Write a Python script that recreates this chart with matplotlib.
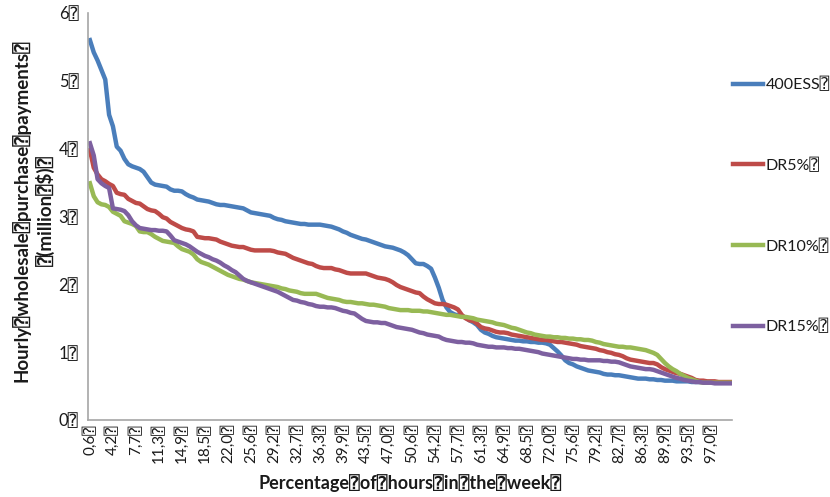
import matplotlib
matplotlib.use("Agg")
import matplotlib.pyplot as plt
import numpy as np

B = "\u2370"  # missing-glyph box as shown in the original

series_names = ["400ESS" + B, "DR5%" + B, "DR10%" + B, "DR15%" + B]
colors = ["#4A7EBB", "#BE4B48", "#98B954", "#7D60A0"]

ess400 = [5.60, 5.42, 5.30, 5.16, 5.02, 4.50, 4.33, 4.03, 3.97, 3.85,
          3.77, 3.74, 3.72, 3.70, 3.66, 3.58, 3.50, 3.47, 3.46, 3.45,
          3.44, 3.40, 3.38, 3.38, 3.37, 3.33, 3.30, 3.28, 3.25, 3.24,
          3.23, 3.22, 3.20, 3.18, 3.17, 3.17, 3.16, 3.15, 3.14, 3.13,
          3.12, 3.09, 3.06, 3.05, 3.04, 3.03, 3.02, 3.01, 2.98, 2.96,
          2.95, 2.93, 2.92, 2.91, 2.90, 2.89, 2.89, 2.88, 2.88, 2.88,
          2.88, 2.87, 2.86, 2.85, 2.83, 2.81, 2.78, 2.76, 2.73, 2.71,
          2.69, 2.67, 2.66, 2.64, 2.62, 2.60, 2.58, 2.56, 2.55, 2.54,
          2.52, 2.50, 2.47, 2.43, 2.37, 2.31, 2.30, 2.30, 2.27, 2.23,
          2.10, 1.95, 1.77, 1.66, 1.59, 1.56, 1.54, 1.53, 1.51, 1.47,
          1.44, 1.40, 1.33, 1.29, 1.27, 1.24, 1.22, 1.21, 1.20, 1.19,
          1.18, 1.17, 1.17, 1.16, 1.16, 1.15, 1.15, 1.14, 1.14, 1.13,
          1.11, 1.06, 1.01, 0.95, 0.88, 0.84, 0.82, 0.79, 0.77, 0.75,
          0.73, 0.72, 0.71, 0.70, 0.68, 0.67, 0.67, 0.66, 0.66, 0.65,
          0.64, 0.63, 0.62, 0.61, 0.61, 0.61, 0.60, 0.60, 0.59, 0.59,
          0.58, 0.58, 0.58, 0.57, 0.57, 0.57, 0.57, 0.56, 0.56, 0.56,
          0.56, 0.56, 0.55, 0.55, 0.55, 0.55, 0.55, 0.55]

dr5 = [3.98, 3.72, 3.62, 3.55, 3.52, 3.48, 3.45, 3.35, 3.33, 3.32,
       3.26, 3.23, 3.20, 3.19, 3.15, 3.11, 3.09, 3.08, 3.04, 2.99,
       2.97, 2.92, 2.89, 2.86, 2.83, 2.81, 2.80, 2.78, 2.70, 2.69,
       2.68, 2.68, 2.67, 2.66, 2.63, 2.61, 2.59, 2.57, 2.56, 2.55,
       2.55, 2.53, 2.51, 2.50, 2.50, 2.50, 2.50, 2.50, 2.49, 2.47,
       2.46, 2.45, 2.42, 2.39, 2.37, 2.35, 2.33, 2.31, 2.30, 2.27,
       2.25, 2.24, 2.24, 2.24, 2.22, 2.21, 2.19, 2.17, 2.16, 2.16,
       2.16, 2.16, 2.16, 2.14, 2.12, 2.10, 2.09, 2.08, 2.06, 2.03,
       1.99, 1.96, 1.94, 1.92, 1.90, 1.88, 1.87, 1.82, 1.78, 1.75,
       1.72, 1.71, 1.71, 1.70, 1.68, 1.66, 1.63, 1.55, 1.50, 1.47,
       1.46, 1.42, 1.37, 1.35, 1.34, 1.32, 1.30, 1.29, 1.29, 1.28,
       1.26, 1.25, 1.24, 1.23, 1.22, 1.21, 1.20, 1.19, 1.18, 1.18,
       1.17, 1.16, 1.15, 1.15, 1.14, 1.13, 1.12, 1.11, 1.09, 1.08,
       1.07, 1.06, 1.05, 1.03, 1.02, 1.00, 0.99, 0.97, 0.96, 0.94,
       0.91, 0.89, 0.88, 0.87, 0.86, 0.85, 0.84, 0.84, 0.82, 0.78,
       0.75, 0.73, 0.71, 0.69, 0.68, 0.66, 0.64, 0.62, 0.59, 0.58,
       0.58, 0.57, 0.57, 0.57, 0.56, 0.56, 0.56, 0.56]

dr10 = [3.49, 3.30, 3.21, 3.18, 3.17, 3.14, 3.07, 3.04, 3.01, 2.93,
        2.91, 2.89, 2.86, 2.78, 2.77, 2.77, 2.74, 2.70, 2.67, 2.64,
        2.63, 2.62, 2.61, 2.56, 2.52, 2.50, 2.48, 2.44, 2.37, 2.33,
        2.31, 2.29, 2.26, 2.23, 2.20, 2.17, 2.14, 2.12, 2.10, 2.08,
        2.07, 2.05, 2.03, 2.02, 2.01, 2.00, 1.99, 1.98, 1.97, 1.96,
        1.94, 1.93, 1.91, 1.90, 1.89, 1.87, 1.86, 1.86, 1.86, 1.86,
        1.84, 1.82, 1.80, 1.79, 1.78, 1.77, 1.75, 1.74, 1.74, 1.73,
        1.72, 1.72, 1.71, 1.70, 1.70, 1.69, 1.68, 1.67, 1.65, 1.64,
        1.63, 1.62, 1.62, 1.62, 1.61, 1.61, 1.61, 1.60, 1.60, 1.59,
        1.58, 1.57, 1.56, 1.55, 1.55, 1.54, 1.53, 1.52, 1.52, 1.51,
        1.50, 1.48, 1.47, 1.46, 1.45, 1.44, 1.42, 1.41, 1.40, 1.38,
        1.36, 1.35, 1.33, 1.31, 1.29, 1.28, 1.26, 1.25, 1.24, 1.23,
        1.23, 1.22, 1.22, 1.21, 1.21, 1.20, 1.20, 1.19, 1.19, 1.18,
        1.18, 1.17, 1.15, 1.14, 1.12, 1.11, 1.10, 1.09, 1.08, 1.08,
        1.07, 1.07, 1.06, 1.05, 1.04, 1.03, 1.01, 0.99, 0.96, 0.90,
        0.84, 0.79, 0.75, 0.72, 0.68, 0.65, 0.62, 0.60, 0.58, 0.56,
        0.55, 0.55, 0.55, 0.55, 0.55, 0.55, 0.55, 0.55]

dr15 = [4.08, 3.90, 3.55, 3.49, 3.45, 3.42, 3.12, 3.11, 3.10, 3.08,
        3.02, 2.93, 2.87, 2.83, 2.82, 2.81, 2.80, 2.80, 2.79, 2.79,
        2.78, 2.72, 2.65, 2.63, 2.61, 2.59, 2.56, 2.52, 2.48, 2.45,
        2.42, 2.40, 2.37, 2.35, 2.32, 2.28, 2.25, 2.21, 2.18, 2.13,
        2.08, 2.05, 2.03, 2.01, 1.99, 1.97, 1.95, 1.93, 1.91, 1.89,
        1.86, 1.83, 1.80, 1.77, 1.76, 1.74, 1.73, 1.71, 1.70, 1.68,
        1.67, 1.67, 1.66, 1.66, 1.65, 1.63, 1.61, 1.60, 1.58, 1.57,
        1.53, 1.49, 1.46, 1.45, 1.44, 1.44, 1.43, 1.43, 1.41, 1.39,
        1.37, 1.36, 1.35, 1.34, 1.33, 1.31, 1.29, 1.28, 1.26, 1.25,
        1.24, 1.23, 1.20, 1.18, 1.17, 1.16, 1.15, 1.15, 1.14, 1.14,
        1.13, 1.11, 1.10, 1.09, 1.08, 1.08, 1.07, 1.07, 1.07, 1.06,
        1.06, 1.05, 1.05, 1.04, 1.03, 1.02, 1.01, 1.00, 0.98, 0.97,
        0.96, 0.95, 0.94, 0.93, 0.92, 0.91, 0.90, 0.90, 0.89, 0.89,
        0.88, 0.88, 0.88, 0.88, 0.87, 0.87, 0.86, 0.86, 0.85, 0.83,
        0.81, 0.79, 0.78, 0.77, 0.76, 0.75, 0.75, 0.74, 0.72, 0.70,
        0.68, 0.66, 0.64, 0.62, 0.61, 0.59, 0.58, 0.57, 0.56, 0.56,
        0.55, 0.55, 0.55, 0.54, 0.54, 0.54, 0.54, 0.54]

# category tick labels (every 6th hour of the 168-hour week)
tick_labels = ["0,6", "4,2", "7,7", "11,3", "14,9", "18,5", "22,0", "25,6",
               "29,2", "32,7", "36,3", "39,9", "43,5", "47,0", "50,6", "54,2",
               "57,7", "61,3", "64,9", "68,5", "72,0", "75,6", "79,2", "82,7",
               "86,3", "89,9", "93,5", "97,0"]
y_ticks = [0, 1, 2, 3, 4, 5, 6]

plt.rcParams['font.family'] = ['Lato', 'DejaVu Sans', 'DejaVu Sans Mono']
TXT = '#1A1A1A'

fig = plt.figure(figsize=(8.3, 4.97), dpi=100)
ax = fig.add_axes([88/830, 1 - 420/497, (732 - 88)/830, (420 - 13)/497])

all_series = [ess400, dr5, dr10, dr15]
n = len(ess400)
x = np.arange(1, n + 1)
for vals, name, c in zip(all_series, series_names, colors):
    ax.plot(x, vals, color=c, lw=3.2, label=name, solid_joinstyle='round')

ax.set_xlim(0.5, n + 0.5)
ax.set_ylim(0, 6)
ax.set_yticks(y_ticks)
ax.set_yticklabels([f"{v}{B}" for v in y_ticks], fontsize=12)
ax.set_xticks(x[::6])
ax.set_xticklabels([t + B for t in tick_labels], rotation=90, fontsize=11)
ax.tick_params(axis='both', length=0, colors=TXT)
ax.tick_params(axis='y', pad=7)
ax.tick_params(axis='x', pad=3)

for s in ['top', 'right']:
    ax.spines[s].set_visible(False)
for s in ['left', 'bottom']:
    ax.spines[s].set_color('#A6A6A6')
    ax.spines[s].set_linewidth(1.2)

fig.text(33/830, 1 - 211/497,
         "Hourly" + B + "wholesale" + B + "purchase" + B + "payments" + B + "\n" + B + "(million" + B + "$)" + B,
         rotation=90, ha='center', va='center', multialignment='center',
         fontsize=13.5, fontweight='bold', linespacing=1.35, color=TXT)
ax.set_xlabel("Percentage" + B + "of" + B + "hours" + B + "in" + B + "the" + B + "week" + B,
              fontsize=13, fontweight='bold', labelpad=8, color=TXT)

fig.legend(loc='upper left', bbox_to_anchor=(733/830, 1 - 77/497), frameon=False,
           fontsize=11.5, handlelength=1.9, handletextpad=0.15, labelspacing=4.1,
           borderpad=0, borderaxespad=0, labelcolor=TXT)

fig.savefig("out.png", dpi=100)
